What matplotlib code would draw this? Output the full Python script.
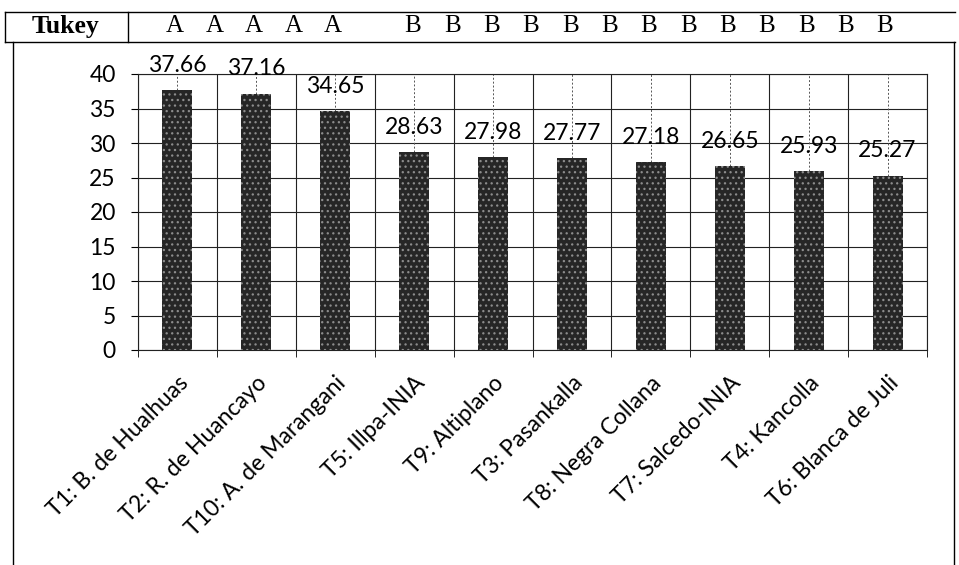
import matplotlib.pyplot as plt
import numpy as np

# datos del grafico
variedades = ['T1: B. de Hualhuas', 'T2: R. de Huancayo', 'T10: A. de Marangani',
              'T5: Illpa-INIA', 'T9: Altiplano', 'T3: Pasankalla', 'T8: Negra Collana',
              'T7: Salcedo-INIA', 'T4: Kancolla', 'T6: Blanca de Juli']
valores = [37.66, 37.16, 34.65, 28.63, 27.98, 27.77, 27.18, 26.65, 25.93, 25.27]
letras_a = ['A', 'A', 'A', 'A', 'A']
letras_b = ['B'] * 13

plt.rcParams['font.family'] = ['Lato', 'DejaVu Sans']
plt.rcParams['hatch.color'] = '#8c8c8c'
plt.rcParams['hatch.linewidth'] = 0.9

fig = plt.figure(figsize=(9.59, 5.65), dpi=100)
W, H = 959, 565


def fx(px):
    return px / W


def fy(py):
    return 1 - py / H


# cabecera Tukey
hdr = dict(color='black', lw=1.0, transform=fig.transFigure)
fig.add_artist(plt.Line2D([fx(5), fx(955)], [fy(12), fy(12)], **hdr))
fig.add_artist(plt.Line2D([fx(5), fx(955)], [fy(42), fy(42)], **hdr))
fig.add_artist(plt.Line2D([fx(5), fx(5)], [fy(12), fy(42)], **hdr))
fig.add_artist(plt.Line2D([fx(128), fx(128)], [fy(12), fy(42)], **hdr))
# marco del grafico
fig.add_artist(plt.Line2D([fx(12.5), fx(12.5)], [fy(42), fy(565)], **hdr))
fig.add_artist(plt.Line2D([fx(954), fx(954)], [fy(42), fy(565)], **hdr))

fig.text(fx(66), fy(26), 'Tukey', family='Liberation Serif', fontweight='bold',
         fontsize=18.5, ha='center', va='center')
for x, t in zip(np.linspace(175, 333, len(letras_a)), letras_a):
    fig.text(fx(x), fy(26), t, family='Liberation Serif', fontsize=18, ha='center', va='center')
for x, t in zip(np.linspace(413, 885, len(letras_b)), letras_b):
    fig.text(fx(x), fy(26), t, family='Liberation Serif', fontsize=18, ha='center', va='center')

ax = fig.add_axes([fx(138), fy(350), fx(927) - fx(138), fy(74) - fy(350)])
x = np.arange(len(valores))
ax.bar(x, valores, width=0.38, color='#262626', hatch='...', zorder=3)

# lineas guia y etiquetas de valores
for xi, v in zip(x, valores):
    ax.plot([xi, xi], [v, 40], ls=(0, (2, 2)), color='#555555', lw=0.7, zorder=2)
    ax.text(xi, v + 3.6, f'{v:.2f}', ha='center', va='center', fontsize=16.5, zorder=4)

ax.set_xlim(-0.5, len(valores) - 0.5)
ax.set_ylim(0, 40)
ax.set_yticks(np.arange(0, 41, 5))
ax.tick_params(axis='y', labelsize=16.5, length=5, direction='out', pad=11)
ax.set_xticks(x)
ax.set_xticklabels(variedades, rotation=45, ha='right', rotation_mode='anchor', fontsize=16.5)
ax.tick_params(axis='x', which='major', length=0, pad=16)
ax.set_xticks(np.arange(-0.5, len(valores), 1), minor=True)
ax.tick_params(axis='x', which='minor', length=5, direction='out')
ax.grid(True, axis='y', color='#222222', lw=0.8, zorder=1)
ax.grid(True, axis='x', which='minor', color='#222222', lw=0.8, zorder=1)
for s in ax.spines.values():
    s.set_color('#222222')
    s.set_linewidth(0.8)

fig.savefig('out.png', dpi=100)
